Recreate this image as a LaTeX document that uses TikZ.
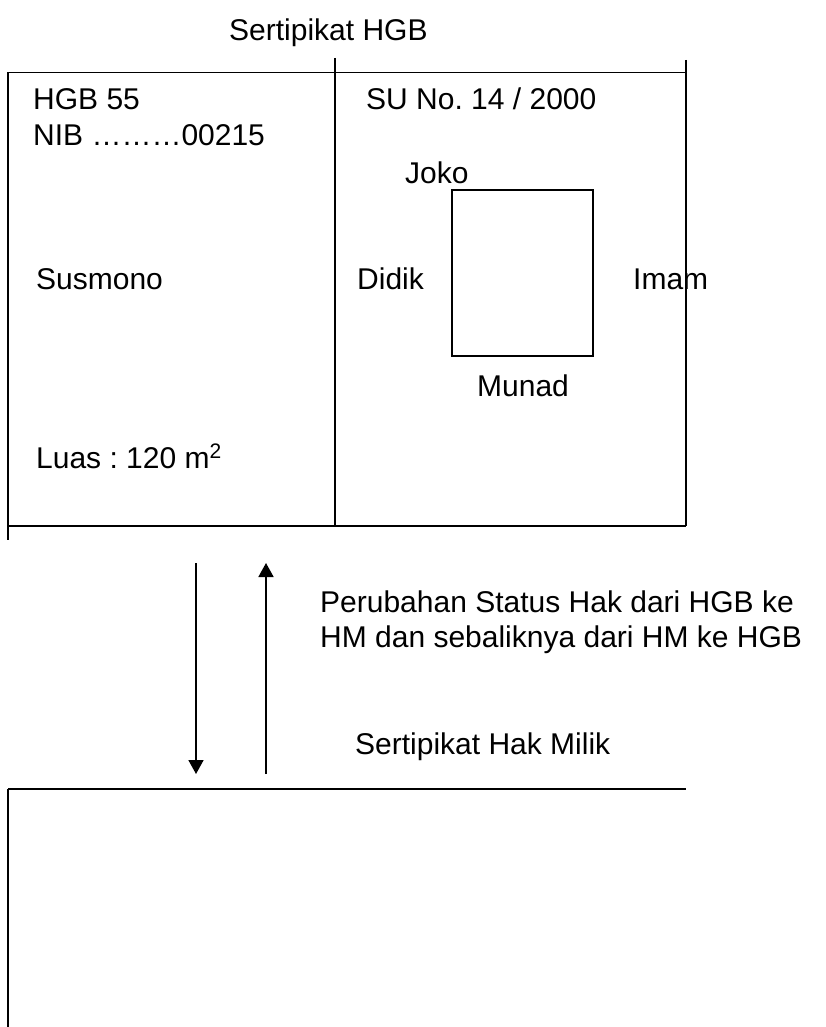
\documentclass[tikz,border=0pt]{standalone}
\usepackage{fontspec}
\setmainfont{Liberation Sans}
\usetikzlibrary{arrows.meta}
\begin{document}
\frenchspacing
\begin{tikzpicture}[x=1pt,y=-1pt,
  lbl/.style={anchor=base west,inner sep=0pt,font=\fontsize{30}{35}\selectfont},
  frame/.style={line width=1.9pt},
  plot/.style={line width=1.4pt},
  arr/.style={line width=1.7pt,-{Triangle[width=15pt,length=14pt]}}]
\useasboundingbox (0,0) rectangle (825,1027);
% top certificate
\coordinate (tl) at (8,72.5);
\coordinate (tr) at (686,72.5);
\coordinate (tmtop) at (335,58);
\coordinate (tmbot) at (335,526);
\coordinate (trtop) at (686,60);
\coordinate (trbot) at (686,526);
\coordinate (bl) at (8,526);
\coordinate (blext) at (8,540);
\draw[frame] (tl) -- (tr);
\draw[frame] (tl) -- (blext);
\draw[frame] (bl) -- (trbot);
\draw[frame] (tmtop) -- (tmbot);
\draw[frame] (trtop) -- (trbot);
% parcel
\coordinate (p1) at (452,190);
\coordinate (p2) at (593,356);
\draw[plot] (p1) rectangle (p2);
% texts
\node[lbl] (t0) at (229,41) {Sertipikat HGB};
\node[lbl] (t1) at (33,110) {HGB 55};
\node[lbl] (t2) at (33,146) {NIB ………00215};
\node[lbl] (t3) at (366,110) {SU No. 14 / 2000};
\node[lbl] (t4) at (405,183) {Joko};
\node[lbl] (t5) at (36,289) {Susmono};
\node[lbl] (t6) at (357,289) {Didik};
\node[lbl] (t7) at (633,289) {Imam};
\node[lbl] (t8) at (477,396) {Munad};
\node[lbl] (t9) at (36,468) {Luas : 120 m\textsuperscript{2}};
% arrows
\coordinate (d1) at (196,563);
\coordinate (d2) at (196,774);
\coordinate (u1) at (266,774);
\coordinate (u2) at (266,563);
\draw[arr] (d1) -- (d2);
\draw[arr] (u1) -- (u2);
\node[lbl] (t10) at (320,612) {Perubahan Status Hak dari HGB ke};
\node[lbl] (t11) at (320,647) {HM dan sebaliknya dari HM ke HGB};
\node[lbl] (t12) at (355,754) {Sertipikat Hak Milik};
% bottom certificate
\coordinate (bt1) at (8,789);
\coordinate (bt2) at (686,789);
\coordinate (bb) at (8,1027);
\draw[frame] (bt1) -- (bt2);
\draw[frame] (bt1) -- (bb);
\end{tikzpicture}
\end{document}
